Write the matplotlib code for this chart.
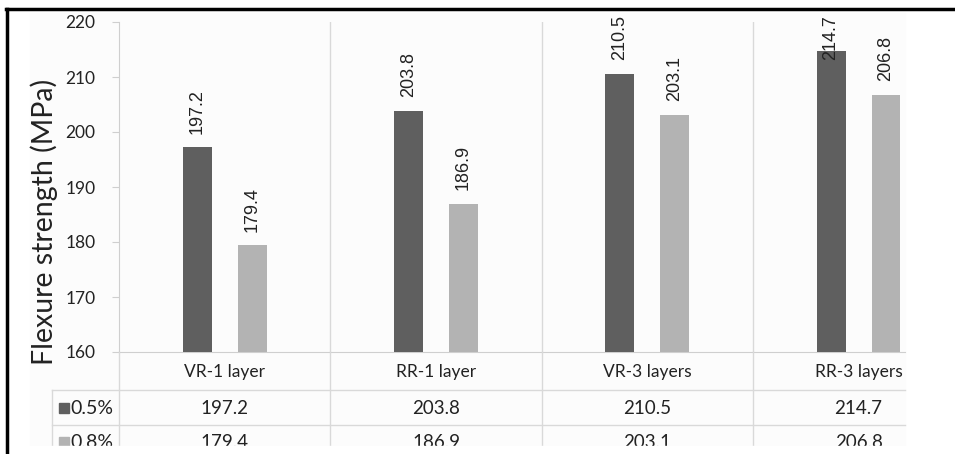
import matplotlib.pyplot as plt
from matplotlib.patches import Rectangle

# data
categories = ["VR-1 layer", "RR-1 layer", "VR-3 layers", "RR-3 layers"]
series_names = ["0.5%", "0.8%"]
vals_05 = [197.2, 203.8, 210.5, 214.7]
vals_08 = [179.4, 186.9, 203.1, 206.8]
yticks = [160, 170, 180, 190, 200, 210, 220]

dark = "#5f5f5f"
light = "#b3b3b3"
grid_c = "#d9d9d9"
W, H = 955, 454

fig = plt.figure(figsize=(W / 100, H / 100), dpi=100)
fig.patch.set_facecolor("white")

# faint chart background + black frame (top and left only, rest is cropped)
bg = Rectangle((30 / W, 0), (905 - 30) / W, 1 - 13 / H,
               transform=fig.transFigure, color="#fcfcfc", zorder=-10)
fig.add_artist(bg)
# the screenshot is cut off at the bottom
fig.add_artist(Rectangle((10 / W, 0), 1, (H - 446) / H, transform=fig.transFigure,
                         color="white", zorder=10))
fig.add_artist(plt.Line2D([6 / W, 1], [1 - 9 / H, 1 - 9 / H], color="black", lw=2.5,
                          transform=fig.transFigure, zorder=11))
fig.add_artist(plt.Line2D([7 / W, 7 / W], [0, 1 - 9 / H], color="black", lw=2.5,
                          transform=fig.transFigure, zorder=11))

# plot area
x0, x1 = 119, 905
ax = fig.add_axes([x0 / W, 1 - 352 / H, (x1 - x0) / W, (352 - 22) / H])
ax.set_facecolor("none")
cw = 211.3  # px per category
ax.set_xlim(-0.5, -0.5 + (x1 - x0) / cw)
ax.set_ylim(160, 220)

xs = list(range(len(categories)))
off, bw = 0.13, 0.137
ax.bar([x - off for x in xs], [v - 160 for v in vals_05], bottom=160, width=bw, color=dark, zorder=3)
ax.bar([x + off for x in xs], [v - 160 for v in vals_08], bottom=160, width=bw, color=light, zorder=3)

# labels above bars, pushed down when they would leave the chart (like Excel)
for x, v in zip(xs, vals_05):
    ax.text(x - off, min(v + 2.5, 213.1), f"{v:.1f}", rotation=90, ha="center", va="bottom",
            fontsize=13, family="Liberation Sans", color="#222222", zorder=4, clip_on=False)
for x, v in zip(xs, vals_08):
    ax.text(x + off, min(v + 2.5, 213.1), f"{v:.1f}", rotation=90, ha="center", va="bottom",
            fontsize=13, family="Liberation Sans", color="#222222", zorder=4, clip_on=False)

for b in [0.5, 1.5, 2.5]:
    ax.axvline(b, color=grid_c, lw=1, zorder=1)

for s in ["top", "right"]:
    ax.spines[s].set_visible(False)
ax.spines["left"].set_color("#cfcfcf")
ax.spines["bottom"].set_color("#cfcfcf")
ax.set_yticks(yticks)
ax.set_yticklabels([str(t) for t in yticks], family="Lato", fontsize=12.5, color="#222222")
ax.tick_params(axis="y", length=5, color="#cfcfcf", pad=12)
ax.set_xticks([])
ax.set_ylabel("Flexure strength (MPa)", family="Lato", fontsize=20.5, color="#222222")
ax.yaxis.set_label_coords(-0.078, 0.395)

# data table below
tab = fig.add_axes([x0 / W, 0, (x1 - x0) / W, (H - 352) / H], sharex=ax)
tab.set_ylim(H, 352)
tab.axis("off")
left = -0.5 - (x0 - 52) / cw
right = ax.get_xlim()[1]
tab.plot([left, right], [390, 390], color=grid_c, lw=1, clip_on=False)
tab.plot([left, right], [425, 425], color=grid_c, lw=1, clip_on=False)
tab.plot([left, left], [390, H], color=grid_c, lw=1, clip_on=False)
tab.plot([-0.5, -0.5], [352, H], color=grid_c, lw=1, clip_on=False)
for b in [0.5, 1.5, 2.5]:
    tab.plot([b, b], [352, H], color=grid_c, lw=1, clip_on=False)

for x, c in zip(xs, categories):
    tab.text(x, 372, c, ha="center", va="center", family="Lato", fontsize=12.5, color="#222222")
for row_y, name, col, vals in [(408, series_names[0], dark, vals_05),
                               (442, series_names[1], light, vals_08)]:
    tab.plot([left + 12 / cw], [row_y], marker="s", ms=6.5, color=col, clip_on=False)
    tab.text(left + 18 / cw, row_y, name, ha="left", va="center", family="Lato",
             fontsize=14, color="#222222", clip_on=False)
    for x, v in zip(xs, vals):
        tab.text(x, row_y, f"{v:.1f}", ha="center", va="center", family="Lato",
                 fontsize=13.5, color="#222222")

fig.savefig("out.png", dpi=100)
